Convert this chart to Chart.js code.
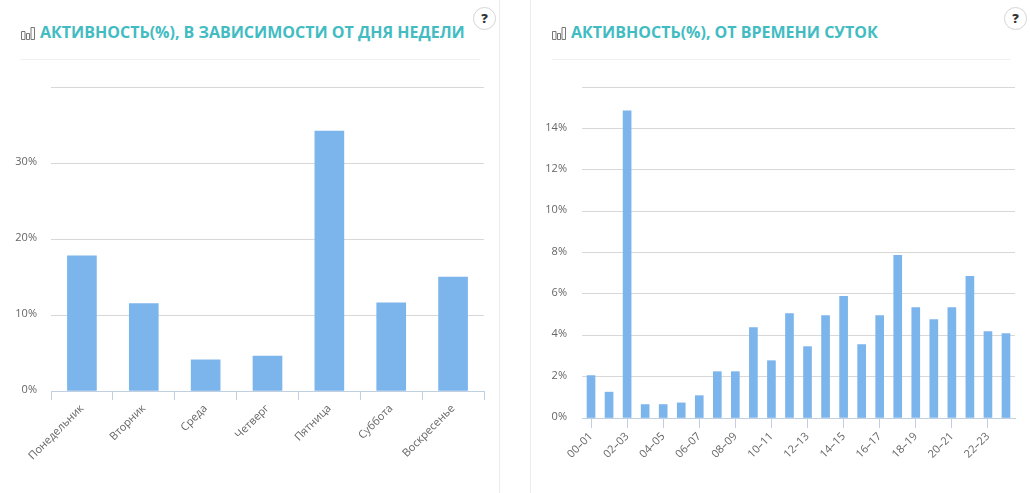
<!DOCTYPE html>
<html lang="ru">
<head>
<meta charset="utf-8">
<title>Активность</title>
<script src="https://cdn.jsdelivr.net/npm/chart.js@4/dist/chart.umd.min.js"></script>
<style>
html, body { margin: 0; padding: 0; background: #fff; }
body { position: relative; width: 1030px; height: 493px; overflow: hidden; font-family: "Open Sans", sans-serif; }
.title { position: absolute; top: 20px; margin: 0; font-size: 16px; line-height: 24px; font-weight: 700; color: #42bcc2; white-space: nowrap; }
.rule { position: absolute; top: 59px; height: 1px; background: #f0f0f0; }
.divider { position: absolute; top: 0; width: 1px; height: 493px; background: #ececec; }
.help { position: absolute; width: 21px; height: 21px; border: 1px solid #d5d5d5; border-radius: 50%; text-align: center; font-size: 13px; line-height: 21px; font-weight: 800; color: #333; }
.icon { position: absolute; top: 27px; }
.box { position: absolute; top: 70px; height: 423px; }
</style>
</head>
<body>
<div class="divider" style="left:499px"></div>
<div class="divider" style="left:530px"></div>

<svg class="icon" style="left:20px" width="16" height="13" viewBox="0 0 16 13"><path d="M1.5 4.5h3.5v8H1.5zM6.5 6.5h3v6h-3zM11 .5h3.5v12H11z" fill="none" stroke="#777"/></svg>
<h2 class="title" style="left:40px">АКТИВНОСТЬ(%), В ЗАВИСИМОСТИ ОТ ДНЯ НЕДЕЛИ</h2>
<div class="rule" style="left:20px;width:460px"></div>
<div class="help" style="left:473px;top:7px">?</div>

<svg class="icon" style="left:551px" width="16" height="13" viewBox="0 0 16 13"><path d="M1.5 4.5h3.5v8H1.5zM6.5 6.5h3v6h-3zM11 .5h3.5v12H11z" fill="none" stroke="#777"/></svg>
<h2 class="title" style="left:571px">АКТИВНОСТЬ(%), ОТ ВРЕМЕНИ СУТОК</h2>
<div class="rule" style="left:552px;width:458px"></div>
<div class="help" style="left:1004px;top:7px">?</div>

<div class="box" style="left:0;width:499px"><canvas id="dayChart"></canvas></div>
<div class="box" style="left:532px;width:498px"><canvas id="hourChart"></canvas></div>

<script>
// data
const dayLabels = ['Понедельник', 'Вторник', 'Среда', 'Четверг', 'Пятница', 'Суббота', 'Воскресенье'];
const dayValues = [17.8, 11.5, 4.1, 4.6, 34.2, 11.6, 15.0];

const hourLabels = ['00–01', '01–02', '02–03', '03–04', '04–05', '05–06', '06–07', '07–08',
    '08–09', '09–10', '10–11', '11–12', '12–13', '13–14', '14–15', '15–16',
    '16–17', '17–18', '18–19', '19–20', '20–21', '21–22', '22–23', '23–00'];
const hourValues = [2.05, 1.25, 14.85, 0.65, 0.65, 0.73, 1.08, 2.24,
    2.24, 4.37, 2.77, 5.05, 3.45, 4.95, 5.88, 3.55,
    4.95, 7.86, 5.34, 4.76, 5.34, 6.85, 4.18, 4.08];

const dayTicks = [0, 10, 20, 30, 40];
const hourTicks = [0, 2, 4, 6, 8, 10, 12, 14, 16];

// bar chart
function createBarchart(chartid, labels, values, yTicks, opt){
    const ctx = document.getElementById(chartid);
    const yMax = yTicks[yTicks.length - 1];

    return new Chart(ctx, {
      type: 'bar',
      data: {
        labels: labels,
        datasets: [{
            data: values,
            backgroundColor: '#7cb5ec',
            barThickness: opt.barWidth
        }]
      },
      options: {
        responsive: true,
        maintainAspectRatio: false,
        animation: false,
        layout: { padding: { top: 17, right: 15, left: 0, bottom: 0 } },
        plugins: { legend: { display: false }, tooltip: { enabled: false } },
        scales: {
          x: {
            afterFit: (scale) => { scale.height = opt.xHeight; },
            border: { color: '#c0d0e0' },
            grid: {
                offset: opt.tickBetween,
                drawOnChartArea: false,
                color: '#c0d0e0',
                tickLength: opt.tickLength
            },
            ticks: {
                color: '#666',
                font: { family: '"Open Sans"', size: 11 },
                minRotation: 45,
                maxRotation: 45,
                padding: opt.labelGap,
                autoSkip: opt.skip > 0,
                maxTicksLimit: opt.skip > 0 ? opt.skip : undefined
            }
          },
          y: {
            min: 0,
            max: yMax,
            afterFit: (scale) => { scale.width = opt.yWidth; },
            afterBuildTicks: (scale) => { scale.ticks = yTicks.map((v) => ({ value: v })); },
            border: { display: false },
            grid: { color: '#d8d8d8', drawTicks: false },
            ticks: {
                color: '#666',
                font: { family: '"Open Sans"', size: 11, lineHeight: 0.18 },
                padding: opt.yGap,
                // 맨 위 눈금은 라벨 없음, 빈 줄은 라벨을 격자선 위로 1px 올림
                callback: (v) => (v === yMax ? '' : [v + '%', ''])
            }
          }
        }
      }
    });
}

createBarchart('dayChart', dayLabels, dayValues, dayTicks, {
    barWidth: 29, xHeight: 102, yWidth: 51, yGap: 14, tickBetween: true, tickLength: 9, labelGap: 2, skip: 0
});
createBarchart('hourChart', hourLabels, hourValues, hourTicks, {
    barWidth: 8, xHeight: 75, yWidth: 50, yGap: 15, tickBetween: false, tickLength: 10, labelGap: 2, skip: 12
});
</script>
</body>
</html>
